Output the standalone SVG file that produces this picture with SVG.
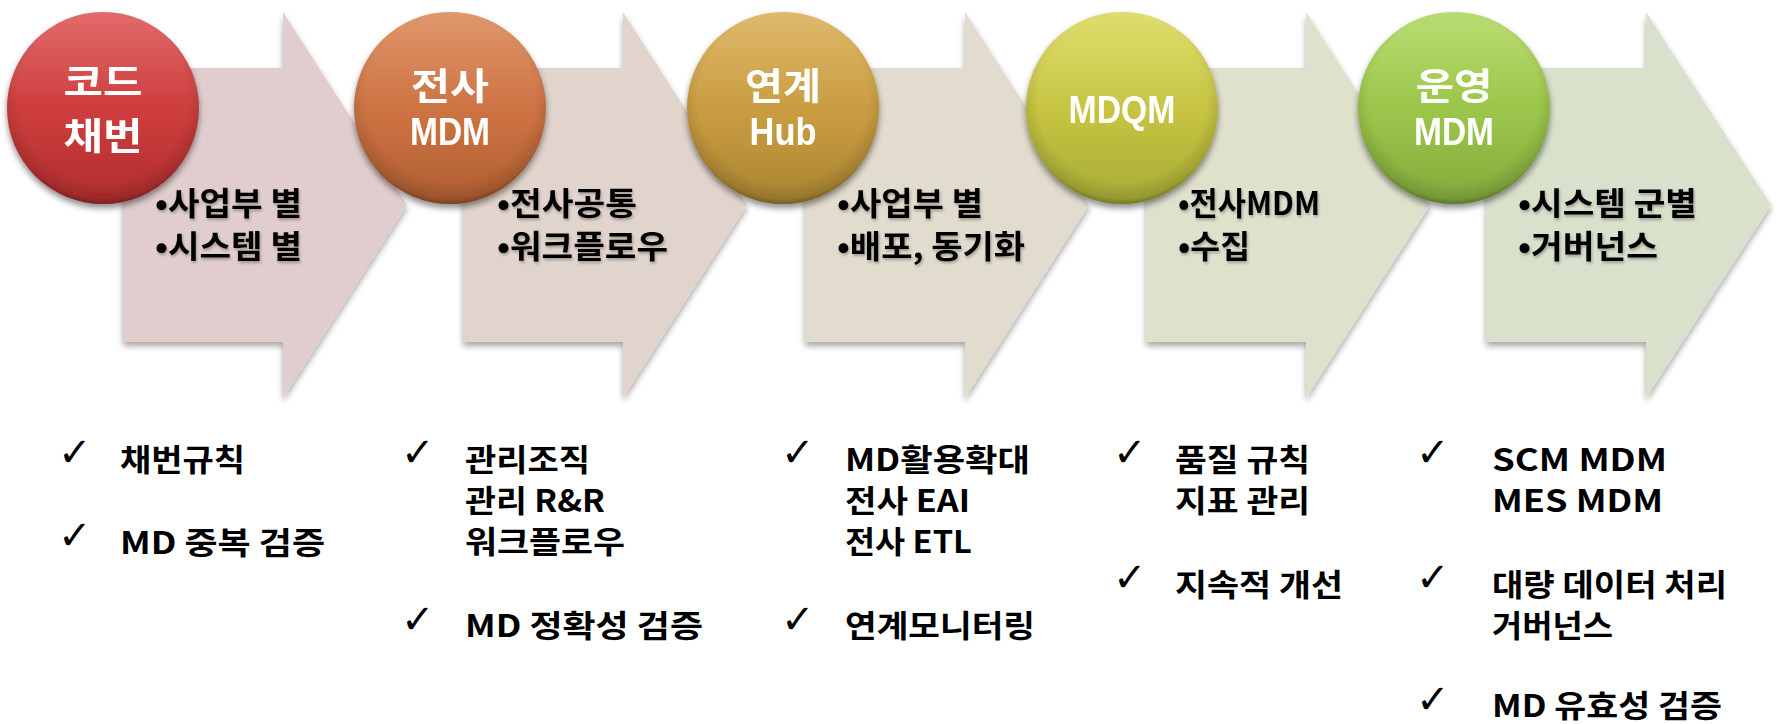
<svg xmlns="http://www.w3.org/2000/svg" width="1779" height="724" viewBox="0 0 1779 724">
<style>
.atext{font-family:"Noto Sans CJK KR","Liberation Sans",sans-serif;font-weight:700;font-size:32px;fill:#000;}
.clab{font-family:"Noto Sans CJK KR","Liberation Sans",sans-serif;font-weight:700;font-size:37px;fill:#fff;text-anchor:middle;}
.clat{font-family:"Liberation Sans",Arial,sans-serif;font-weight:700;font-size:39px;fill:#fff;text-anchor:middle;}
.btext{font-family:"Noto Sans CJK KR","Liberation Sans",sans-serif;font-weight:700;font-size:31px;fill:#000;}
.chk{font-family:"DejaVu Sans",sans-serif;font-size:40px;fill:#000;}
</style>
<defs>
<filter id="ashadow" x="-10%" y="-10%" width="120%" height="125%">
<feGaussianBlur in="SourceAlpha" stdDeviation="3"/>
<feOffset dx="0" dy="4" result="b"/>
<feComponentTransfer><feFuncA type="linear" slope="0.35"/></feComponentTransfer>
<feMerge><feMergeNode/><feMergeNode in="SourceGraphic"/></feMerge>
</filter>
<filter id="cshadow" x="-20%" y="-20%" width="140%" height="145%">
<feGaussianBlur in="SourceAlpha" stdDeviation="3"/>
<feOffset dx="0" dy="4"/>
<feComponentTransfer><feFuncA type="linear" slope="0.45"/></feComponentTransfer>
<feMerge><feMergeNode/><feMergeNode in="SourceGraphic"/></feMerge>
</filter>
<filter id="tshadow" x="-5%" y="-20%" width="110%" height="140%">
<feGaussianBlur in="SourceAlpha" stdDeviation="1.5"/>
<feOffset dx="1" dy="2"/>
<feComponentTransfer><feFuncA type="linear" slope="0.3"/></feComponentTransfer>
<feMerge><feMergeNode/><feMergeNode in="SourceGraphic"/></feMerge>
</filter>
<linearGradient id="g1" x1="0" y1="0" x2="0" y2="1"><stop offset="0" stop-color="#dc4a4a"/><stop offset="0.55" stop-color="#cc3c3c"/><stop offset="1" stop-color="#b02e2e"/></linearGradient>
<linearGradient id="g2" x1="0" y1="0" x2="0" y2="1"><stop offset="0" stop-color="#d9804c"/><stop offset="0.55" stop-color="#cc7242"/><stop offset="1" stop-color="#ae5d30"/></linearGradient>
<linearGradient id="g3" x1="0" y1="0" x2="0" y2="1"><stop offset="0" stop-color="#d8aa4c"/><stop offset="0.55" stop-color="#c89b40"/><stop offset="1" stop-color="#a98532"/></linearGradient>
<linearGradient id="g4" x1="0" y1="0" x2="0" y2="1"><stop offset="0" stop-color="#d8d64e"/><stop offset="0.55" stop-color="#c4c240"/><stop offset="1" stop-color="#a6ac36"/></linearGradient>
<linearGradient id="g5" x1="0" y1="0" x2="0" y2="1"><stop offset="0" stop-color="#aad452"/><stop offset="0.55" stop-color="#9ac449"/><stop offset="1" stop-color="#82aa3c"/></linearGradient>
<radialGradient id="rim" cx="0.5" cy="0.45" r="0.55">
<stop offset="0.8" stop-color="#000" stop-opacity="0"/>
<stop offset="0.95" stop-color="#000" stop-opacity="0.12"/>
<stop offset="1" stop-color="#000" stop-opacity="0.3"/>
</radialGradient>
<linearGradient id="gloss" x1="0" y1="0" x2="0" y2="1">
<stop offset="0" stop-color="#fff" stop-opacity="0.18"/>
<stop offset="0.5" stop-color="#fff" stop-opacity="0"/>
</linearGradient>
</defs>

<g id="connectors">
<g id="arrow1" filter="url(#ashadow)"><path d="M123,68 H283 V12 L407,205 L283,398 V342 H123 Z" fill="#e1cdcd"/></g>
<g id="arrow2" filter="url(#ashadow)"><path d="M463,68 H623 V12 L747,205 L623,398 V342 H463 Z" fill="#e1d4cd"/></g>
<g id="arrow3" filter="url(#ashadow)"><path d="M805,68 H965 V12 L1089,205 L965,398 V342 H805 Z" fill="#e1dccd"/></g>
<g id="arrow4" filter="url(#ashadow)"><path d="M1146,68 H1306 V12 L1430,205 L1306,398 V342 H1146 Z" fill="#dfe1cd"/></g>
<g id="arrow5" filter="url(#ashadow)"><path d="M1486,68 H1646 V12 L1771,205 L1646,398 V342 H1486 Z" fill="#d9e1cd"/></g>
</g>

<g id="node1" filter="url(#cshadow)">
<circle cx="103" cy="108" r="96" fill="url(#g1)"/>
<circle cx="103" cy="108" r="96" fill="url(#rim)"/>
<circle cx="103" cy="108" r="96" fill="url(#gloss)"/>
<text class="clab" x="103" y="96" textLength="79" lengthAdjust="spacingAndGlyphs">코드</text>
<text class="clab" x="103" y="150" textLength="79" lengthAdjust="spacingAndGlyphs">채번</text>
</g>
<g id="node2" filter="url(#cshadow)">
<circle cx="450" cy="108" r="96" fill="url(#g2)"/>
<circle cx="450" cy="108" r="96" fill="url(#rim)"/>
<circle cx="450" cy="108" r="96" fill="url(#gloss)"/>
<text class="clab" x="450" y="100" textLength="78" lengthAdjust="spacingAndGlyphs">전사</text>
<text class="clat" x="450" y="145" textLength="80" lengthAdjust="spacingAndGlyphs">MDM</text>
</g>
<g id="node3" filter="url(#cshadow)">
<circle cx="783" cy="108" r="96" fill="url(#g3)"/>
<circle cx="783" cy="108" r="96" fill="url(#rim)"/>
<circle cx="783" cy="108" r="96" fill="url(#gloss)"/>
<text class="clab" x="783" y="100" textLength="76" lengthAdjust="spacingAndGlyphs">연계</text>
<text class="clat" x="783" y="145" textLength="67" lengthAdjust="spacingAndGlyphs">Hub</text>
</g>
<g id="node4" filter="url(#cshadow)">
<circle cx="1122" cy="108" r="96" fill="url(#g4)"/>
<circle cx="1122" cy="108" r="96" fill="url(#rim)"/>
<circle cx="1122" cy="108" r="96" fill="url(#gloss)"/>
<text class="clat" x="1122" y="123" textLength="107" lengthAdjust="spacingAndGlyphs">MDQM</text>
</g>
<g id="node5" filter="url(#cshadow)">
<circle cx="1454" cy="108" r="96" fill="url(#g5)"/>
<circle cx="1454" cy="108" r="96" fill="url(#rim)"/>
<circle cx="1454" cy="108" r="96" fill="url(#gloss)"/>
<text class="clab" x="1454" y="100" textLength="77" lengthAdjust="spacingAndGlyphs">운영</text>
<text class="clat" x="1454" y="145" textLength="80" lengthAdjust="spacingAndGlyphs">MDM</text>
</g>

<g id="arrow-labels" filter="url(#tshadow)">
<text class="atext" x="155" y="215" textLength="147" lengthAdjust="spacingAndGlyphs">•사업부 별</text>
<text class="atext" x="155" y="258" textLength="147" lengthAdjust="spacingAndGlyphs">•시스템 별</text>
<text class="atext" x="497" y="215" textLength="140" lengthAdjust="spacingAndGlyphs">•전사공통</text>
<text class="atext" x="497" y="258" textLength="171" lengthAdjust="spacingAndGlyphs">•워크플로우</text>
<text class="atext" x="837" y="215" textLength="146" lengthAdjust="spacingAndGlyphs">•사업부 별</text>
<text class="atext" x="837" y="258" textLength="188" lengthAdjust="spacingAndGlyphs">•배포, 동기화</text>
<text class="atext" x="1178" y="215" textLength="142" lengthAdjust="spacingAndGlyphs">•전사MDM</text>
<text class="atext" x="1178" y="258" textLength="72" lengthAdjust="spacingAndGlyphs">•수집</text>
<text class="atext" x="1518" y="215" textLength="179" lengthAdjust="spacingAndGlyphs">•시스템 군별</text>
<text class="atext" x="1518" y="258" textLength="140" lengthAdjust="spacingAndGlyphs">•거버넌스</text>
</g>

<g id="list1">
<text class="chk" x="58" y="466">✓</text>
<text class="btext" x="120" y="471" textLength="125" lengthAdjust="spacingAndGlyphs">채번규칙</text>
<text class="chk" x="58" y="549">✓</text>
<text class="btext" x="120" y="554" textLength="205" lengthAdjust="spacingAndGlyphs">MD 중복 검증</text>
</g>
<g id="list2">
<text class="chk" x="401" y="466">✓</text>
<text class="btext" x="465" y="471" textLength="125" lengthAdjust="spacingAndGlyphs">관리조직</text>
<text class="btext" x="465" y="512" textLength="140" lengthAdjust="spacingAndGlyphs">관리 R&amp;R</text>
<text class="btext" x="465" y="553" textLength="160" lengthAdjust="spacingAndGlyphs">워크플로우</text>
<text class="chk" x="401" y="633">✓</text>
<text class="btext" x="465" y="637" textLength="238" lengthAdjust="spacingAndGlyphs">MD 정확성 검증</text>
</g>
<g id="list3">
<text class="chk" x="781" y="466">✓</text>
<text class="btext" x="845" y="471" textLength="185" lengthAdjust="spacingAndGlyphs">MD활용확대</text>
<text class="btext" x="845" y="512" textLength="125" lengthAdjust="spacingAndGlyphs">전사 EAI</text>
<text class="btext" x="845" y="553" textLength="127" lengthAdjust="spacingAndGlyphs">전사 ETL</text>
<text class="chk" x="781" y="633">✓</text>
<text class="btext" x="845" y="637" textLength="190" lengthAdjust="spacingAndGlyphs">연계모니터링</text>
</g>
<g id="list4">
<text class="chk" x="1113" y="466">✓</text>
<text class="btext" x="1175" y="471" textLength="135" lengthAdjust="spacingAndGlyphs">품질 규칙</text>
<text class="btext" x="1175" y="512" textLength="135" lengthAdjust="spacingAndGlyphs">지표 관리</text>
<text class="chk" x="1113" y="591">✓</text>
<text class="btext" x="1175" y="596" textLength="168" lengthAdjust="spacingAndGlyphs">지속적 개선</text>
</g>
<g id="list5">
<text class="chk" x="1416" y="466">✓</text>
<text class="btext" x="1492" y="471" textLength="175" lengthAdjust="spacingAndGlyphs">SCM MDM</text>
<text class="btext" x="1492" y="512" textLength="171" lengthAdjust="spacingAndGlyphs">MES MDM</text>
<text class="chk" x="1416" y="591">✓</text>
<text class="btext" x="1492" y="596" textLength="235" lengthAdjust="spacingAndGlyphs">대량 데이터 처리</text>
<text class="btext" x="1492" y="637" textLength="121" lengthAdjust="spacingAndGlyphs">거버넌스</text>
<text class="chk" x="1416" y="713">✓</text>
<text class="btext" x="1492" y="717" textLength="230" lengthAdjust="spacingAndGlyphs">MD 유효성 검증</text>
</g>
</svg>
